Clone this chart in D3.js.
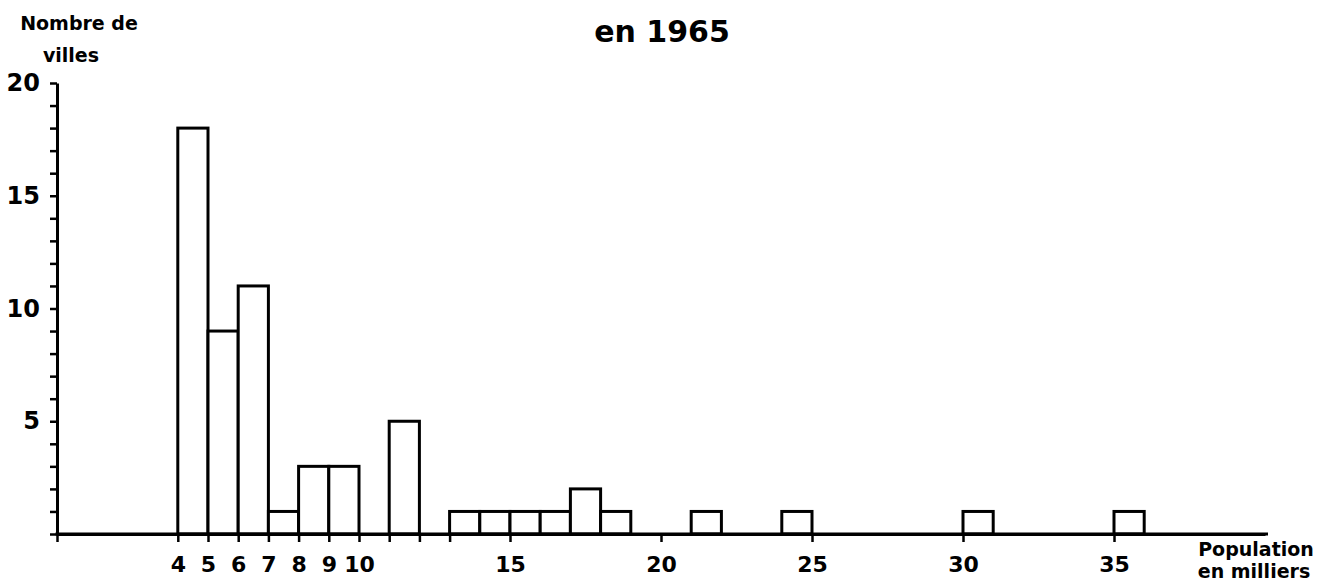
<!DOCTYPE html>
<html>
<head>
<meta charset="utf-8">
<script src="https://cdn.jsdelivr.net/npm/d3@7"></script>
<style>
  body { margin: 0; background: #fff; }
  svg { display: block; font-family: "DejaVu Sans", sans-serif; font-weight: bold; }
</style>
</head>
<body>
<div id="chart"></div>
<script>
// histogram classes (population in thousands) and number of towns, 1965
const binStart = [4, 5, 6, 7, 8, 9, 11, 13, 14, 15, 16, 17, 18, 21, 24, 30, 35];
const binEnd   = [5, 6, 7, 8, 9, 10, 12, 14, 15, 16, 17, 18, 19, 22, 25, 31, 36];
const counts   = [18, 9, 11, 1, 3, 3, 5, 1, 1, 1, 1, 2, 1, 1, 1, 1, 1];

const xTicks = [0, 4, 5, 6, 7, 8, 9, 10, 11, 12, 13, 15, 20, 25, 30, 35];
const xLabels = [4, 5, 6, 7, 8, 9, 10, 15, 20, 25, 30, 35];
const yTicks = d3.range(0, 21);
const yLabels = [5, 10, 15, 20];

const width = 1324;
const height = 584;

const svg = d3.select('#chart').append('svg')
  .attr('width', width)
  .attr('height', height);

svg.append('rect')
  .attr('width', width)
  .attr('height', height)
  .attr('fill', '#fff');

const xScale = d3.scaleLinear()
  .domain([0, 40])
  .range([57, 1265]);

const yScale = d3.scaleLinear()
  .domain([0, 20])
  .range([534, 83]);

const bins = binStart.map((s, i) => ({ x0: s, x1: binEnd[i], n: counts[i] }));

svg.append('g')
  .selectAll('rect')
  .data(bins)
  .enter()
  .append('rect')
  .attr('x', (d) => xScale(d.x0))
  .attr('y', (d) => yScale(d.n))
  .attr('width', (d) => xScale(d.x1) - xScale(d.x0))
  .attr('height', (d) => yScale(0) - yScale(d.n))
  .attr('fill', '#fff')
  .attr('stroke', '#000')
  .attr('stroke-width', 3);

const xAxis = svg.append('g')
  .attr('transform', `translate(0, ${yScale(0)})`)
  .call(d3.axisBottom(xScale)
    .tickValues(xTicks)
    .tickSize(8)
    .tickSizeOuter(0)
    .tickPadding(14)
    .tickFormat((d) => xLabels.includes(d) ? d : ''));

const yAxis = svg.append('g')
  .attr('transform', `translate(${xScale(0)}, 0)`)
  .call(d3.axisLeft(yScale)
    .tickValues(yTicks)
    .tickSize(7)
    .tickSizeOuter(0)
    .tickPadding(10)
    .tickFormat((d) => yLabels.includes(d) ? d : ''));

[xAxis, yAxis].forEach((ax) => {
  ax.select('.domain').attr('stroke', '#000').attr('stroke-width', 3);
  ax.selectAll('.tick line').attr('stroke', '#000').attr('stroke-width', 2.5);
  ax.selectAll('.tick text')
    .attr('fill', '#000')
    .attr('font-family', '"DejaVu Sans", sans-serif')
    .attr('font-weight', 'bold');
});
xAxis.selectAll('.tick text').attr('font-size', '22px');
yAxis.selectAll('.tick text').attr('font-size', '24px');

// extend the x axis line to the end of the scale
xAxis.append('line')
  .attr('x1', xScale(0) - 1.5)
  .attr('x2', 1268)
  .attr('stroke', '#000')
  .attr('stroke-width', 3);

svg.append('text')
  .attr('x', 662)
  .attr('y', 42)
  .attr('text-anchor', 'middle')
  .attr('font-size', '30px')
  .text('en 1965');

svg.append('text')
  .attr('x', 79)
  .attr('y', 30)
  .attr('text-anchor', 'middle')
  .attr('font-size', '19px')
  .text('Nombre de');

svg.append('text')
  .attr('x', 71)
  .attr('y', 62)
  .attr('text-anchor', 'middle')
  .attr('font-size', '19px')
  .text('villes');

svg.append('text')
  .attr('x', 1256)
  .attr('y', 556)
  .attr('text-anchor', 'middle')
  .attr('font-size', '19px')
  .text('Population');

svg.append('text')
  .attr('x', 1254)
  .attr('y', 578)
  .attr('text-anchor', 'middle')
  .attr('font-size', '19px')
  .text('en milliers');
</script>
</body>
</html>
